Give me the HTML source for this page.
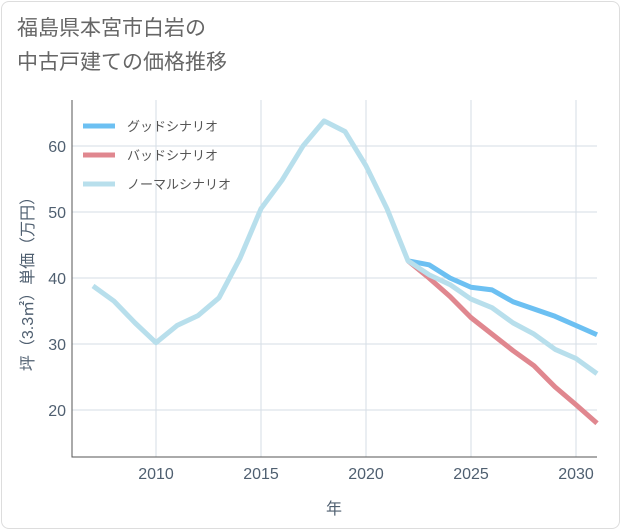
<!DOCTYPE html>
<html><head><meta charset="utf-8">
<style>
body{margin:0;background:#fff;font-family:"Liberation Sans","Noto Sans CJK JP",sans-serif;}
#card{position:absolute;left:1px;top:1px;width:617px;height:526px;border:1px solid #ddd;border-radius:8px;background:#fff;}
#title{position:absolute;left:17px;top:12px;font-size:21px;line-height:34px;color:#666;}
svg{position:absolute;left:0;top:0;}
</style></head><body>
<div id="card"></div>
<div id="title">福島県本宮市白岩の<br>中古戸建ての価格推移</div>
<svg id="chart" width="621" height="530"></svg>
<script>
const years=[2007,2008,2009,2010,2011,2012,2013,2014,2015,2016,2017,2018,2019,2020,2021,2022,2023,2024,2025,2026,2027,2028,2029,2030,2031];
const normal=[38.8,36.5,33.2,30.2,32.8,34.3,37,43,50.5,54.8,60,63.8,62.2,57,50.5,42.6,40.5,39,36.8,35.5,33.2,31.5,29.2,27.8,25.5];
const futYears=[2022,2023,2024,2025,2026,2027,2028,2029,2030,2031];
const good=[42.6,42,40,38.6,38.2,36.4,35.3,34.2,32.8,31.4];
const bad=[42.6,40,37.2,34,31.5,29,26.7,23.5,20.8,18];
const xTicks=[2010,2015,2020,2025,2030];
const yTicks=[20,30,40,50,60];
const NS="http://www.w3.org/2000/svg";
const svg=document.getElementById('chart');
const L=72,R=597,T=100,B=457;
const TXT='#4f5f70';
const x=v=>156+(v-2010)*21;
const y=v=>410-(v-20)*6.6;
function mk(t,a){const e=document.createElementNS(NS,t);for(const k in a)e.setAttribute(k,a[k]);svg.appendChild(e);return e;}
xTicks.forEach(t=>{const g=mk('line',{x1:x(t),x2:x(t),y1:T,y2:B,stroke:'#d5dde5','stroke-width':1});


const l=mk('text',{x:x(t),y:B+22,'text-anchor':'middle','font-size':16,fill:TXT});l.textContent=t;

});
yTicks.forEach(t=>{const g=mk('line',{x1:L,x2:R,y1:y(t),y2:y(t),stroke:'#d5dde5','stroke-width':1});


const l=mk('text',{x:L-6,y:y(t)+6,'text-anchor':'end','font-size':16,fill:TXT});l.textContent=t;

});
const ax=mk('path',{d:`M${L},${T}V${B}H${R}`,fill:'none',stroke:'#555','stroke-width':1});


function line(xs,vs,c,name){const p=mk('polyline',{points:xs.map((v,i)=>x(v)+','+y(vs[i])).join(' '),fill:'none',stroke:c,'stroke-width':5,'stroke-linejoin':'round'});

}
line(futYears,good,'#6cc0f2','good-scenario-line');
line(futYears,bad,'#e0878f','bad-scenario-line');
line(years,normal,'#b8dfec','normal-scenario-line');
const leg=[['グッドシナリオ','#6cc0f2'],['バッドシナリオ','#e0878f'],['ノーマルシナリオ','#b8dfec']];
leg.forEach((d,i)=>{const yy=126+i*29;
const s=mk('line',{x1:83,x2:115,y1:yy,y2:yy,stroke:d[1],'stroke-width':5});


const t=mk('text',{x:127,y:yy+5,'font-size':13,fill:'#555'});t.textContent=d[0];

});
const xt=mk('text',{x:334,y:514,'text-anchor':'middle','font-size':16,fill:TXT});xt.textContent='年';


const yt=mk('text',{x:0,y:0,'text-anchor':'middle','font-size':16,fill:TXT,transform:'translate(33,280) rotate(-90)'});yt.textContent='坪（3.3㎡）単価（万円）';


</script>
</body></html>
